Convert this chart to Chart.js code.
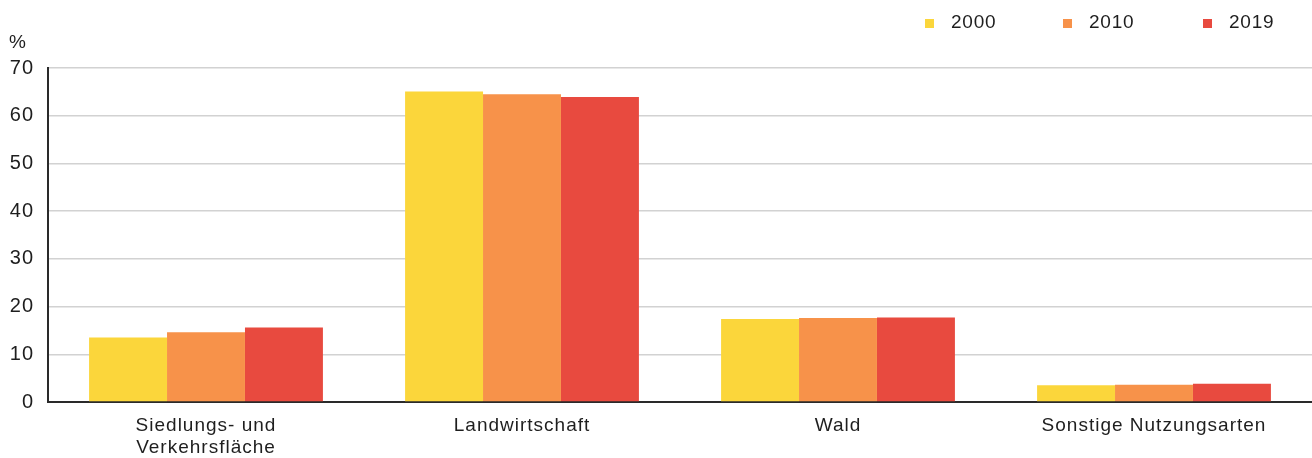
<!DOCTYPE html>
<html>
<head>
<meta charset="utf-8">
<script src="https://cdn.jsdelivr.net/npm/chart.js@4"></script>
<style>
  html, body { margin: 0; padding: 0; background: #fff; }
  #wrap { width: 1312px; height: 458px; position: relative; }
</style>
</head>
<body>
<div id="wrap"><canvas id="miGrafica"></canvas></div>
<script>
const categorias = [['Siedlungs- und', 'Verkehrsfläche'], 'Landwirtschaft', 'Wald', 'Sonstige Nutzungsarten'];
const anios = ['2000', '2010', '2019'];
const valores_2000 = [13.5, 65.1, 17.4, 3.5];
const valores_2010 = [14.6, 64.5, 17.6, 3.6];
const valores_2019 = [15.6, 63.9, 17.7, 3.8];
const colores = ['#fbd63b', '#f7924a', '#e84a3f'];
const ticks_y = [0, 10, 20, 30, 40, 50, 60, 70];

const fuente = '"Liberation Sans", Arial, sans-serif';

// el original esta un poco estirado a lo ancho: algo de espacio entre letras
const espaciado = {
    id: 'espaciado',
    beforeLayout(chart) { chart.ctx.letterSpacing = '1px'; },
    beforeDraw(chart) { chart.ctx.letterSpacing = '1px'; }
};

// leyenda y la etiqueta "%" dibujadas a mano
const extras = {
    id: 'extras',
    afterDraw(chart) {
        const ctx = chart.ctx;
        ctx.save();
        ctx.letterSpacing = '0.8px';
        ctx.font = '19px ' + fuente;
        ctx.fillStyle = '#1e1e1e';
        ctx.textBaseline = 'middle';
        ctx.textAlign = 'left';
        ctx.fillText('%', 9, 43);
        const xs = [925, 1063, 1203];
        chart.data.datasets.forEach((ds, i) => {
            ctx.fillStyle = ds.backgroundColor;
            ctx.fillRect(xs[i], 19, 9, 9);
            ctx.fillStyle = '#1e1e1e';
            ctx.fillText(ds.label, xs[i] + 26, 23);
        });
        ctx.restore();
    }
};

const canva_grafica = document.getElementById('miGrafica').getContext('2d');
new Chart(canva_grafica, {
    type: 'bar',
    data: {
        labels: categorias,
        datasets: [
            { label: anios[0], data: valores_2000, backgroundColor: colores[0] },
            { label: anios[1], data: valores_2010, backgroundColor: colores[1] },
            { label: anios[2], data: valores_2019, backgroundColor: colores[2] },
        ]
    },
    options: {
        responsive: true,
        maintainAspectRatio: false,
        animation: false,
        layout: { padding: { top: 68, right: 0, left: 0, bottom: 0 } },
        plugins: { legend: { display: false }, tooltip: { enabled: false } },
        datasets: { bar: { barPercentage: 1, categoryPercentage: 0.74 } },
        scales: {
            x: {
                grid: { display: false, drawTicks: false },
                border: { color: '#2a2a2a', width: 2 },
                ticks: { color: '#1e1e1e', font: { family: fuente, size: 19, lineHeight: 1.2 }, padding: 12, maxRotation: 0, autoSkip: false },
                afterFit(scale) { scale.height = 56; }
            },
            y: {
                min: 0, max: 70,
                afterBuildTicks(scale) { scale.ticks = ticks_y.map(v => ({ value: v })); },
                grid: { color: '#d2d2d2', lineWidth: 1.5, drawTicks: false },
                border: { color: '#2a2a2a', width: 2 },
                ticks: { color: '#1e1e1e', font: { family: fuente, size: 20 }, padding: 14 },
                afterFit(scale) { scale.width = 48; }
            }
        }
    },
    plugins: [espaciado, extras]
});
</script>
</body>
</html>
